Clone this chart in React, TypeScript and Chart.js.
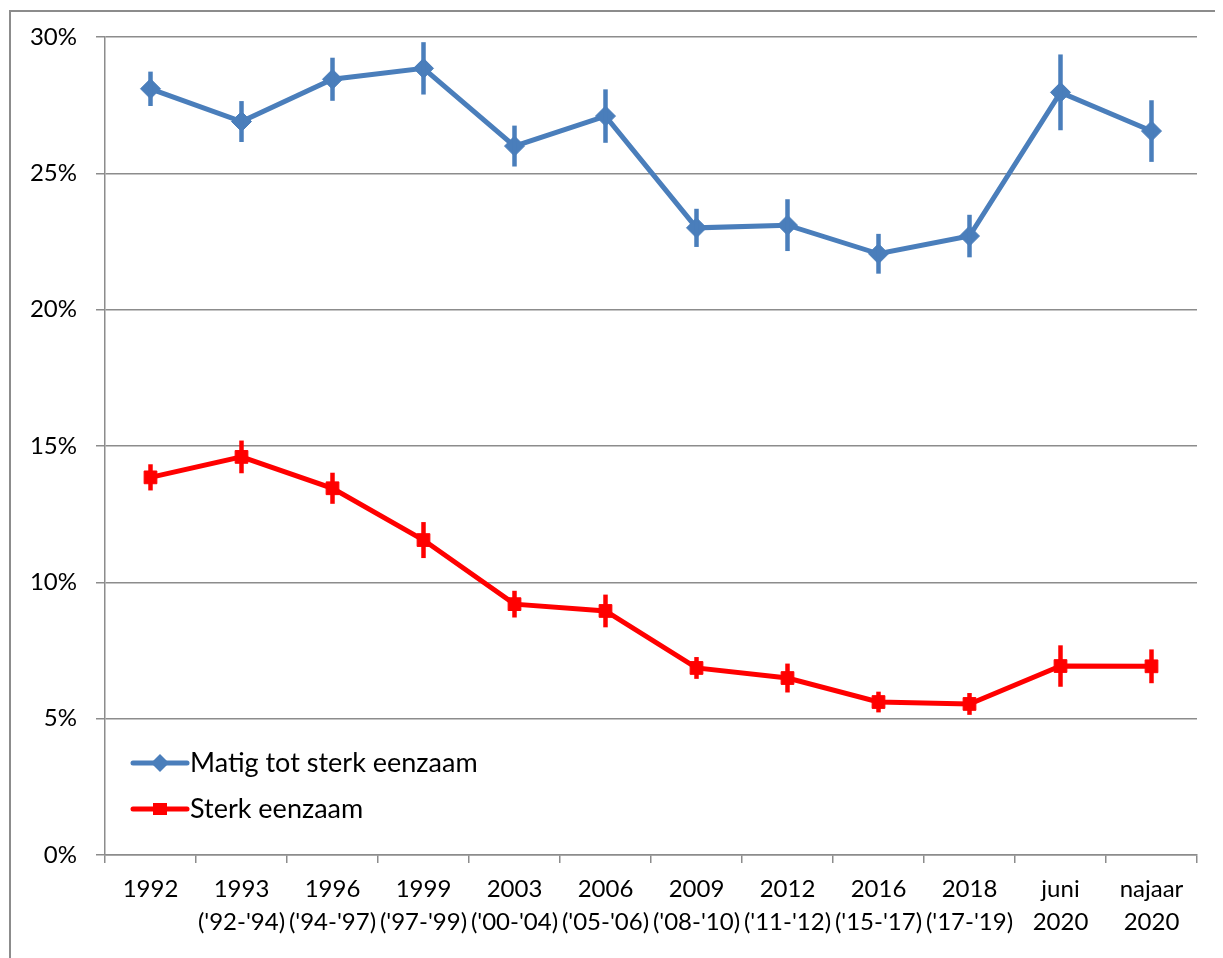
import React, { useEffect, useRef } from 'react';
import { Chart, registerables } from 'chart.js';

Chart.register(...registerables);

const categories: string[][] = [
  ['1992'],
  ['1993', "('92-'94)"],
  ['1996', "('94-'97)"],
  ['1999', "('97-'99)"],
  ['2003', "('00-'04)"],
  ['2006', "('05-'06)"],
  ['2009', "('08-'10)"],
  ['2012', "('11-'12)"],
  ['2016', "('15-'17)"],
  ['2018', "('17-'19)"],
  ['juni', '2020'],
  ['najaar', '2020'],
];

const matigLabel = 'Matig tot sterk eenzaam';
const matigValues = [28.1, 26.9, 28.45, 28.85, 26.0, 27.1, 23.0, 23.1, 22.05, 22.7, 27.97, 26.55];
const matigErrors = [0.63, 0.75, 0.79, 0.96, 0.75, 0.98, 0.7, 0.95, 0.73, 0.78, 1.39, 1.13];

const sterkLabel = 'Sterk eenzaam';
const sterkValues = [13.85, 14.6, 13.45, 11.55, 9.2, 8.95, 6.86, 6.49, 5.61, 5.54, 6.93, 6.92];
const sterkErrors = [0.48, 0.6, 0.57, 0.66, 0.49, 0.6, 0.4, 0.53, 0.38, 0.4, 0.76, 0.62];

const yMin = 0;
const yMax = 30;
const yStep = 5;

const BLUE = '#4a7ebb';
const RED = '#ff0000';
const GRID = '#8c8c8c';
const FONT = 'Lato';
const FONT_SIZE = 24;
const LEGEND_FONT_SIZE = 27;

const errorBarPlugin = {
  id: 'errorBars',
  afterDatasetsDraw(chart: any) {
    const ctx = chart.ctx;
    const yScale = chart.scales.y;
    chart.data.datasets.forEach((ds: any, i: number) => {
      const meta = chart.getDatasetMeta(i);
      const errs: number[] = ds.errors || [];
      ctx.save();
      ctx.strokeStyle = ds.borderColor;
      ctx.lineWidth = 4.5;
      ctx.lineCap = 'butt';
      meta.data.forEach((pt: any, j: number) => {
        const v = ds.data[j] as number;
        const e = errs[j] || 0;
        ctx.beginPath();
        ctx.moveTo(pt.x, yScale.getPixelForValue(v + e));
        ctx.lineTo(pt.x, yScale.getPixelForValue(v - e));
        ctx.stroke();
      });
      ctx.restore();
    });
  },
};

const legendPlugin = {
  id: 'innerLegend',
  afterDraw(chart: any) {
    const ctx = chart.ctx;
    const area = chart.chartArea;
    const x0 = area.left + 28;
    const rows = [area.bottom - 92, area.bottom - 46];
    chart.data.datasets.forEach((ds: any, i: number) => {
      const y = rows[i];
      ctx.save();
      ctx.strokeStyle = ds.borderColor;
      ctx.lineWidth = 5;
      ctx.lineCap = 'round';
      ctx.beginPath();
      ctx.moveTo(x0, y);
      ctx.lineTo(x0 + 54, y);
      ctx.stroke();
      ctx.fillStyle = ds.borderColor;
      ctx.beginPath();
      if (ds.pointStyle === 'rectRot') {
        const r = 9;
        ctx.moveTo(x0 + 27, y - r);
        ctx.lineTo(x0 + 27 + r, y);
        ctx.lineTo(x0 + 27, y + r);
        ctx.lineTo(x0 + 27 - r, y);
        ctx.closePath();
      } else {
        ctx.rect(x0 + 27 - 7, y - 6, 14, 12);
      }
      ctx.fill();
      ctx.fillStyle = '#000';
      ctx.font = `${LEGEND_FONT_SIZE}px ${FONT}`;
      ctx.textBaseline = 'middle';
      ctx.textAlign = 'left';
      ctx.fillText(ds.label, x0 + 57, y);
      ctx.restore();
    });
  },
};

const framePlugin = {
  id: 'frame',
  afterDraw(chart: any) {
    const ctx = chart.ctx;
    ctx.save();
    ctx.strokeStyle = GRID;
    ctx.lineWidth = 2;
    ctx.beginPath();
    ctx.moveTo(2, chart.height);
    ctx.lineTo(2, 3);
    ctx.lineTo(chart.width, 3);
    ctx.stroke();
    ctx.restore();
  },
};

export default function App() {
  const ref = useRef<HTMLCanvasElement>(null);

  useEffect(() => {
    document.documentElement.style.overflow = 'hidden';
    const canvas = ref.current;
    if (!canvas) return;
    const chart = new Chart(canvas, {
      type: 'line',
      data: {
        labels: categories as any,
        datasets: [
          {
            label: matigLabel,
            data: matigValues,
            errors: matigErrors,
            borderColor: BLUE,
            backgroundColor: BLUE,
            borderWidth: 5,
            pointStyle: 'rectRot',
            pointRadius: 10,
            pointBorderWidth: 1,
            pointBackgroundColor: BLUE,
            pointBorderColor: BLUE,
            tension: 0,
          } as any,
          {
            label: sterkLabel,
            data: sterkValues,
            errors: sterkErrors,
            borderColor: RED,
            backgroundColor: RED,
            borderWidth: 5,
            pointStyle: 'rect',
            pointRadius: 9,
            pointBorderWidth: 1,
            pointBackgroundColor: RED,
            pointBorderColor: RED,
            tension: 0,
          } as any,
        ],
      },
      options: {
        responsive: false,
        animation: false,
        layout: { padding: { top: 29, right: 26, left: 0, bottom: 0 } },
        plugins: {
          legend: { display: false },
          tooltip: { enabled: false },
        },
        scales: {
          x: {
            offset: true,
            grid: {
              display: true,
              drawOnChartArea: false,
              drawTicks: true,
              tickLength: 8,
              offset: true,
              color: GRID,
              lineWidth: 1.5,
            },
            border: { display: true, color: GRID, width: 1.5 },
            ticks: {
              color: '#000',
              font: { family: FONT, size: FONT_SIZE, lineHeight: 1.38 },
              padding: 10,
              maxRotation: 0,
              autoSkip: false,
            },
            afterFit: (s: any) => {
              s.height = 103;
            },
          },
          y: {
            min: yMin,
            max: yMax,
            ticks: {
              stepSize: yStep,
              callback: (v: any) => `${v}%`,
              color: '#000',
              font: { family: FONT, size: FONT_SIZE },
              padding: 19,
            },
            grid: { color: GRID, lineWidth: 1.5, tickLength: 9, drawTicks: true },
            border: { display: true, color: GRID, width: 1.5 },
            afterFit: (s: any) => {
              s.width = 97;
              s.paddingTop = 0;
              s.paddingBottom = 0;
            },
          },
        },
      },
      plugins: [errorBarPlugin, legendPlugin, framePlugin],
    });
    return () => chart.destroy();
  }, []);

  return (
    <div style={{ width: 1215, height: 950, position: 'relative' }}>
      <canvas ref={ref} width={1215} height={950} style={{ display: 'block' }} />
    </div>
  );
}
